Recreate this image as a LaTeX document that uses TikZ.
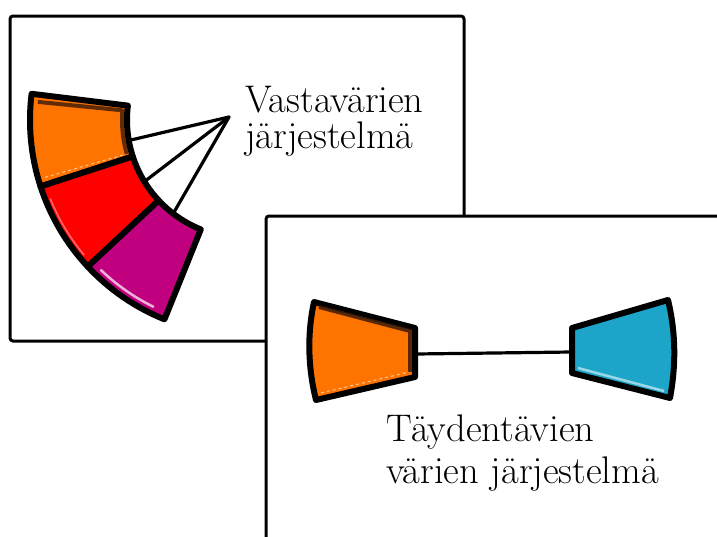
\documentclass[tikz,border=0pt]{standalone}
\usetikzlibrary{calc}
\definecolor{cOrange}{HTML}{FF7300}
\definecolor{cRed}{HTML}{FF0000}
\definecolor{cPurple}{HTML}{C0007F}
\definecolor{cCyan}{HTML}{1CA5C8}
\definecolor{cBrown}{HTML}{3A1A08}
\tikzset{
  panel/.style={draw=black, line width=3pt, rounded corners=3pt, fill=white},
  segment/.style={draw=black, line width=6pt, line join=round},
  link/.style={draw=black, line width=3.2pt, line cap=round},
  label/.style={inner sep=0pt, anchor=north west, align=left, font=\fontsize{38.5}{36}\selectfont},
  stitch/.style={draw=white, opacity=0.6, line width=1pt, dashed}
}
\begin{document}
\begin{tikzpicture}[x=1pt,y=-1pt]
\useasboundingbox (0,0) rectangle (717,536);
% panel 1
\draw[panel] (10,16) rectangle (464,341);
\coordinate (C) at (245,120);
% sectors (image angles: measured clockwise from east)
\foreach \a/\b/\col in {187/162/cOrange, 162/137/cRed, 137/112/cPurple}{
  \path[segment, fill=\col] ($(C)+(\a:215)$) arc[start angle=\a, end angle=\b, radius=215]
     -- ($(C)+(\b:118)$) arc[start angle=\b, end angle=\a, radius=118] -- cycle;
}
% inner shading details
\draw[cBrown, line width=4pt, opacity=0.8, line join=round] ($(C)+(185:208)$) -- ($(C)+(184.5:123)$) arc[start angle=184.5, end angle=164, radius=123];
\draw[stitch] ($(C)+(164:208)$) -- ($(C)+(164:126)$);
\draw[white!70!cPurple, line width=2.5pt] ($(C)+(134:208)$) arc[start angle=134, end angle=116, radius=208];
\draw[white!60!cRed, line width=1.5pt, opacity=0.7] ($(C)+(158:210)$) arc[start angle=158, end angle=140, radius=210];
% connectors
\coordinate (hub) at (229,117);
\coordinate (s1) at ($(C)+(170:118)$);
\coordinate (s2) at ($(C)+(148.5:118)$);
\coordinate (s3) at ($(C)+(127.5:118)$);
\draw[link] (hub) -- (s1);
\draw[link] (hub) -- (s2);
\draw[link] (hub) -- (s3);
\node[label] (t1) at (245,86) {Vastavärien\\järjestelmä};
% panel 2
\draw[panel] (266,216) rectangle (730,550);
\path[segment, fill=cOrange] (314,302) -- (415,328) -- (415,377) -- (316,400)
   .. controls (308,368) and (307,334) .. (314,302) -- cycle;
\draw[cBrown, line width=4pt, opacity=0.85, line join=round] (319,307) -- (410,331) -- (410,372);
\draw[stitch] (321,393) -- (409,372);
\path[segment, fill=cCyan] (572,328) -- (668,300)
   .. controls (676,333) and (676,366) .. (670,398) -- (572,373) -- cycle;
\draw[white!55!cCyan, line width=2.5pt] (578,368) -- (664,391);
\coordinate (a) at (416,354);
\coordinate (b) at (571,352);
\draw[link] (a) -- (b);
\node[label, font=\fontsize{38.5}{42}\selectfont] (t2) at (386,415) {Täydentävien\\värien järjestelmä};
\end{tikzpicture}
\end{document}
